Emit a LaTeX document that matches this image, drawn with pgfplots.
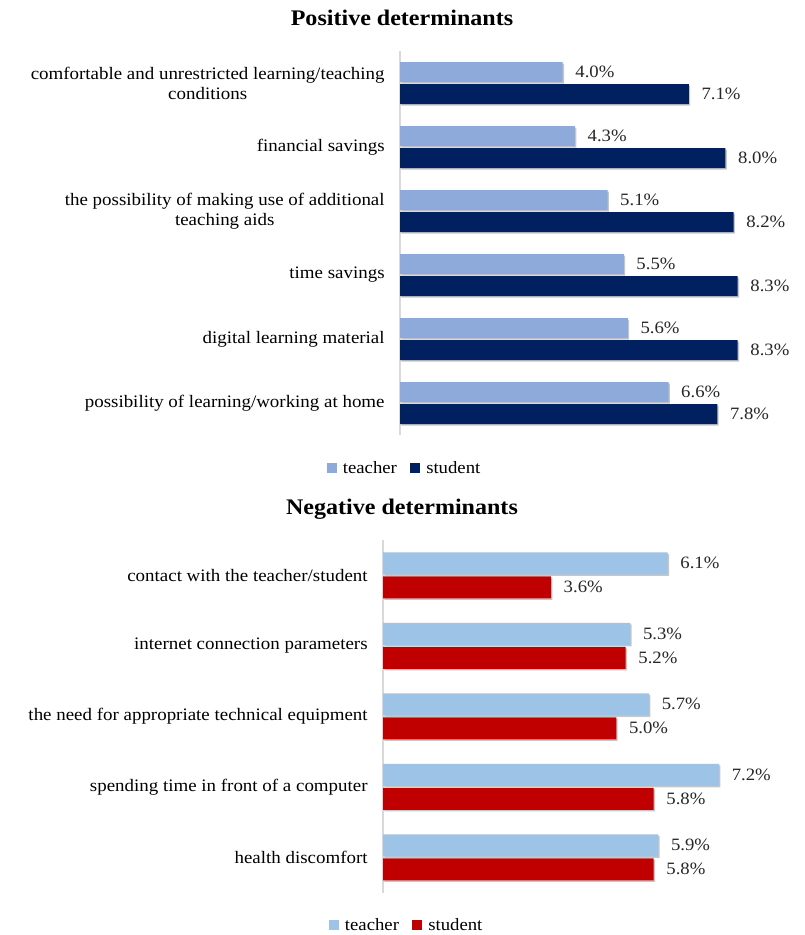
\documentclass[border=0pt]{standalone}
\usepackage{pgfplots}
\pgfplotsset{compat=1.18}
\usepackage{fontspec}
\setmainfont[FakeStretch=1.08]{Liberation Serif}
\usetikzlibrary{shadows}
\definecolor{tposA}{HTML}{8EAADB}
\definecolor{sposA}{HTML}{002060}
\definecolor{tnegA}{HTML}{9DC3E6}
\definecolor{snegA}{HTML}{C00000}
\definecolor{axgray}{HTML}{D9D9D9}
\pgfplotsset{
  mystyle/.style={
    xbar, scale only axis,
    axis x line=none,
    axis y line*=left,
    y axis line style={draw=axgray, line width=0.8pt},
    xmin=0,
    ytick=data,
    major tick length=0pt,
    yticklabel style={font=\fontsize{13.15}{15}\selectfont, align=center, xshift=-8pt},
    nodes near coords={\pgfmathprintnumber[fixed,fixed zerofill,precision=1]{\pgfplotspointmeta}\%},
    nodes near coords style={font=\fontsize{13}{15}\selectfont, anchor=west, xshift=6pt, text=black!85},
    every node near coord/.append style={/pgf/number format/assume math mode=true},
    legend columns=2,
    legend style={draw=none, fill=none, font=\fontsize{13}{15}\selectfont, anchor=center,
      /tikz/every even column/.append style={column sep=8pt}},
    legend image code/.code={\fill[##1] (0pt,-3.8pt) rectangle (7.5pt,3.8pt); \path (10pt,0pt);},
    legend cell align=left,
    bshadow/.style={drop shadow={shadow xshift=1pt, shadow yshift=-1.2pt, opacity=0.45}},
  }
}
\begin{document}
\begin{tikzpicture}
\useasboundingbox (0,0) rectangle (603pt,-701.25pt);
\node[font=\fontsize{16.7}{19}\selectfont\bfseries] at (301.5pt,-13.5pt) {Positive determinants};
\node[font=\fontsize{16.7}{19}\selectfont\bfseries] at (301.5pt,-382pt) {Negative determinants};
\begin{axis}[mystyle,
  at={(300pt,-38.25pt)}, anchor=north west,
  width=285pt, height=288pt,
  xmax=9.34, ymin=-0.5, ymax=5.5,
  bar width=15pt,
  yticklabels={{possibility of learning/working at home},{digital learning material},{time savings},{the possibility of making use of additional\\teaching aids},{financial savings},{comfortable and unrestricted learning/teaching\\conditions}},
  legend style={at={(0.013,-0.086)}},
]
\addplot[fill=tposA, draw=none, bar shift=8.25pt, bshadow, forget plot] coordinates {(6.6,0) (5.6,1) (5.5,2) (5.1,3) (4.3,4) (4.0,5)};
\addplot[fill=sposA, draw=none, bar shift=-8.25pt, bshadow, forget plot] coordinates {(7.8,0) (8.3,1) (8.3,2) (8.2,3) (8.0,4) (7.1,5)};
\addlegendimage{fill=tposA, draw=none}
\addlegendimage{fill=sposA, draw=none}
\legend{teacher,student}
\end{axis}
\begin{axis}[mystyle,
  at={(287.25pt,-405pt)}, anchor=north west,
  width=300pt, height=264.4pt,
  xmax=8.57, ymin=-0.5, ymax=4.5,
  bar width=16.5pt,
  yticklabels={{health discomfort},{spending time in front of a computer},{the need for appropriate technical equipment},{internet connection parameters},{contact with the teacher/student}},
  legend style={at={(0.06,-0.093)}},
]
\addplot[fill=tnegA, draw=none, bar shift=9pt, bshadow, forget plot] coordinates {(5.9,0) (7.2,1) (5.7,2) (5.3,3) (6.1,4)};
\addplot[fill=snegA, draw=none, bar shift=-9pt, bshadow, forget plot] coordinates {(5.8,0) (5.8,1) (5.0,2) (5.2,3) (3.6,4)};
\addlegendimage{fill=tnegA, draw=none}
\addlegendimage{fill=snegA, draw=none}
\legend{teacher,student}
\end{axis}
\end{tikzpicture}
\end{document}
